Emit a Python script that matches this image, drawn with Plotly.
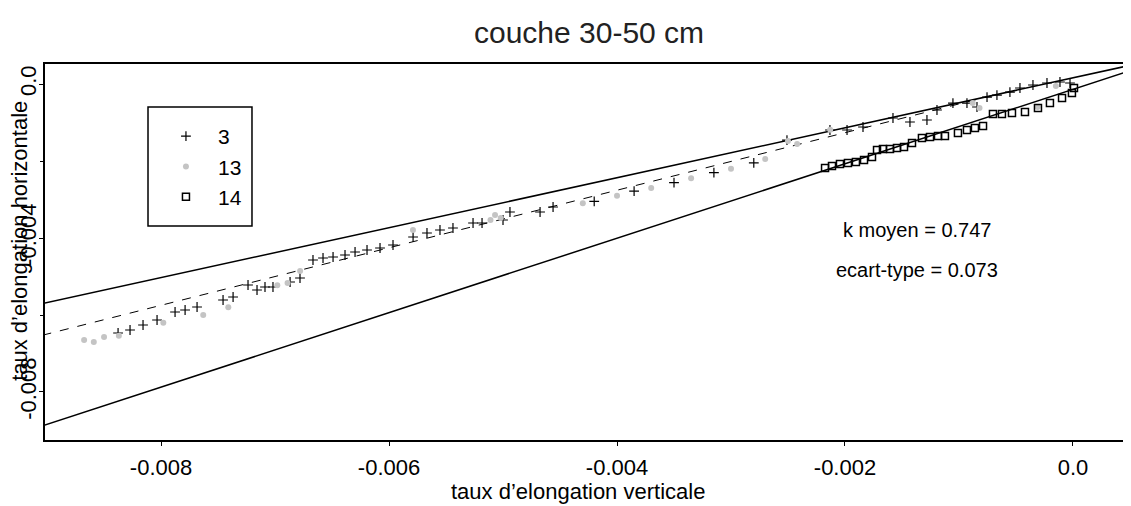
import plotly.graph_objects as go

# ---- data ----
# series "3" (black plus marks)
s3_x = [-0.008377, -0.008272, -0.008158, -0.008035, -0.007877, -0.007789, -0.007684, -0.007456,
        -0.007368, -0.007237, -0.007158, -0.007088, -0.007018, -0.006868, -0.006781,
        -0.006667, -0.006579, -0.006491, -0.006386, -0.006298, -0.006193, -0.006079, -0.005965,
        -0.005789, -0.005667, -0.005553, -0.005439, -0.005263, -0.005184, -0.005000, -0.004939,
        -0.004675, -0.004561, -0.004200, -0.003850, -0.003500, -0.003150, -0.002800,
        -0.002509, -0.002132, -0.001982, -0.001842, -0.001579, -0.001430, -0.001281, -0.001193,
        -0.001053, -0.000930, -0.000842, -0.000754, -0.000667, -0.000553, -0.000465, -0.000351,
        -0.000228, -0.000114, -0.000026]
s3_y = [-0.006468, -0.006390, -0.006260, -0.006130, -0.005922, -0.005870, -0.005792, -0.005610,
        -0.005532, -0.005221, -0.005351, -0.005273, -0.005273, -0.005143, -0.005039,
        -0.004571, -0.004519, -0.004494, -0.004442, -0.004364, -0.004312, -0.004260, -0.004182,
        -0.003974, -0.003870, -0.003792, -0.003740, -0.003610, -0.003610, -0.003532, -0.003325,
        -0.003325, -0.003195, -0.003050, -0.002780, -0.002560, -0.002300, -0.002050,
        -0.001455, -0.001195, -0.001195, -0.001117, -0.000883, -0.000987, -0.000935, -0.000675,
        -0.000494, -0.000494, -0.000597, -0.000338, -0.000286, -0.000208, -0.000104, -0.000026,
        0.000026, 0.000052, 0.000026]

# series "13" (light grey marks)
s13_x = [-0.008675, -0.008590, -0.008500, -0.008370, -0.007980, -0.007630, -0.007410,
         -0.006980, -0.006890, -0.006780, -0.005790, -0.005110, -0.005070, -0.005020,
         -0.004300, -0.004000, -0.003700, -0.003350, -0.003000, -0.002700,
         -0.002500, -0.002420, -0.002130, -0.000880, -0.000820, -0.000310, -0.000150]
s13_y = [-0.006650, -0.006700, -0.006570, -0.006540, -0.006200, -0.006000, -0.005800,
         -0.005230, -0.005170, -0.004860, -0.003790, -0.003530, -0.003400, -0.003480,
         -0.003100, -0.002900, -0.002700, -0.002450, -0.002200, -0.001950,
         -0.001480, -0.001560, -0.001190, -0.000490, -0.000620, -0.000600, -0.000050]

# series "14" (open squares)
s14_x = [-0.002175, -0.002114, -0.002044, -0.001974, -0.001904, -0.001833, -0.001763, -0.001719,
         -0.001667, -0.001605, -0.001544, -0.001482, -0.001412, -0.001325, -0.001254, -0.001184,
         -0.001123, -0.001009, -0.000930, -0.000860, -0.000789, -0.000702, -0.000623, -0.000535,
         -0.000421, -0.000307, -0.000202, -0.000096, -0.000009, 0.000009]
s14_y = [-0.002182, -0.002130, -0.002078, -0.002052, -0.002026, -0.001974, -0.001896, -0.001714,
         -0.001688, -0.001688, -0.001662, -0.001636, -0.001532, -0.001403, -0.001377, -0.001351,
         -0.001351, -0.001273, -0.001195, -0.001143, -0.001091, -0.000779, -0.000779, -0.000753,
         -0.000727, -0.000623, -0.000494, -0.000364, -0.000234, -0.000104]

# reference lines (end points)
line_x = [-0.0095, 0.0006]
upper_y = [-0.006002, 0.000550]    # upper bound line
lower_y = [-0.009323, 0.000442]    # lower bound line
mean_x = [-0.0095, -0.0007]
mean_y = [-0.006869, -0.000293]    # k moyen = 0.747 (dashed)

x_tickvals = [-0.008, -0.006, -0.004, -0.002, 0.0]
x_ticktext = ["-0.008", "-0.006", "-0.004", "-0.002", "0.0"]
y_tickvals = [0.0, -0.004, -0.008]
y_ticktext = ["0.0", "-0.004", "-0.008"]

FONT = "Liberation Sans, Arial, sans-serif"

fig = go.Figure()
fig.add_trace(go.Scatter(x=line_x, y=upper_y, mode="lines", line=dict(color="black", width=1.5),
                         showlegend=False, hoverinfo="skip"))
fig.add_trace(go.Scatter(x=line_x, y=lower_y, mode="lines", line=dict(color="black", width=1.5),
                         showlegend=False, hoverinfo="skip"))
fig.add_trace(go.Scatter(x=mean_x, y=mean_y, mode="lines", line=dict(color="black", width=1, dash="dash"),
                         showlegend=False, hoverinfo="skip"))
fig.add_trace(go.Scatter(x=s3_x, y=s3_y, mode="markers", name="3",
                         marker=dict(symbol="cross-thin", size=7, line=dict(color="black", width=1.2))))
fig.add_trace(go.Scatter(x=s13_x, y=s13_y, mode="markers", name="13",
                         marker=dict(symbol="circle", size=6, color="#c4c4c4")))
fig.add_trace(go.Scatter(x=s14_x, y=s14_y, mode="markers", name="14",
                         marker=dict(symbol="square-open", size=7, color="black", line=dict(width=1.5))))

# page body adds an 8px offset; figure sized so the plot lands where the reference has it
fig.update_layout(
    width=1123, height=498,
    margin=dict(l=37, r=4, t=56, b=66, autoexpand=False),
    paper_bgcolor="white", plot_bgcolor="white",
    font=dict(family=FONT, color="black", size=20),
    title=dict(text="couche 30-50 cm", x=0.5174, xanchor="center", y=0.95, yanchor="middle",
               font=dict(size=30, color="#222")),
    legend=dict(x=0.1007, y=0.8617, xanchor="left", yanchor="top", borderwidth=0,
                bgcolor="rgba(0,0,0,0)", font=dict(size=21), itemwidth=54),
    showlegend=True,
)
# legend frame
fig.add_shape(type="rect", xref="paper", yref="paper", x0=0.0952, x1=0.1913, y0=0.5691, y1=0.8856,
              line=dict(color="black", width=1.5), fillcolor="white", layer="above")
fig.update_xaxes(range=[-0.009018, 0.000474], tickvals=x_tickvals, ticktext=x_ticktext,
                 automargin=False,
                 showgrid=False, zeroline=False, showline=True, linecolor="black", linewidth=1.5,
                 mirror=True, ticks="outside", ticklen=4, tickcolor="black",
                 tickfont=dict(size=22), ticklabelstandoff=3)
fig.update_yaxes(range=[-0.009247, 0.00052], tickvals=y_tickvals, ticktext=y_ticktext,
                 automargin=False,
                 showgrid=False, zeroline=False, showline=True, linecolor="black", linewidth=1.5,
                 mirror=True, ticks="outside", ticklen=4, tickcolor="black", tickangle=-90,
                 tickfont=dict(size=22), ticklabelstandoff=-6,
                 minor=dict(dtick=0.002, tick0=0, ticks="outside", ticklen=3, tickcolor="black"))
fig.add_annotation(text="taux d’elongation horizontale", textangle=-90, xref="paper", yref="paper",
                   x=-0.023, y=0.53, xanchor="center", yanchor="middle", showarrow=False,
                   font=dict(size=22))
fig.add_annotation(text="taux d’elongation verticale", xref="paper", yref="paper",
                   x=0.4926, y=-0.137, xanchor="center", yanchor="middle", showarrow=False,
                   font=dict(size=22))
fig.add_annotation(text="k moyen = 0.747", xref="paper", yref="paper", x=0.806, y=0.559,
                   xanchor="center", yanchor="middle", showarrow=False, font=dict(size=20))
fig.add_annotation(text="ecart-type = 0.073", xref="paper", yref="paper", x=0.806, y=0.452,
                   xanchor="center", yanchor="middle", showarrow=False, font=dict(size=20))

fig.write_html("out.html")
